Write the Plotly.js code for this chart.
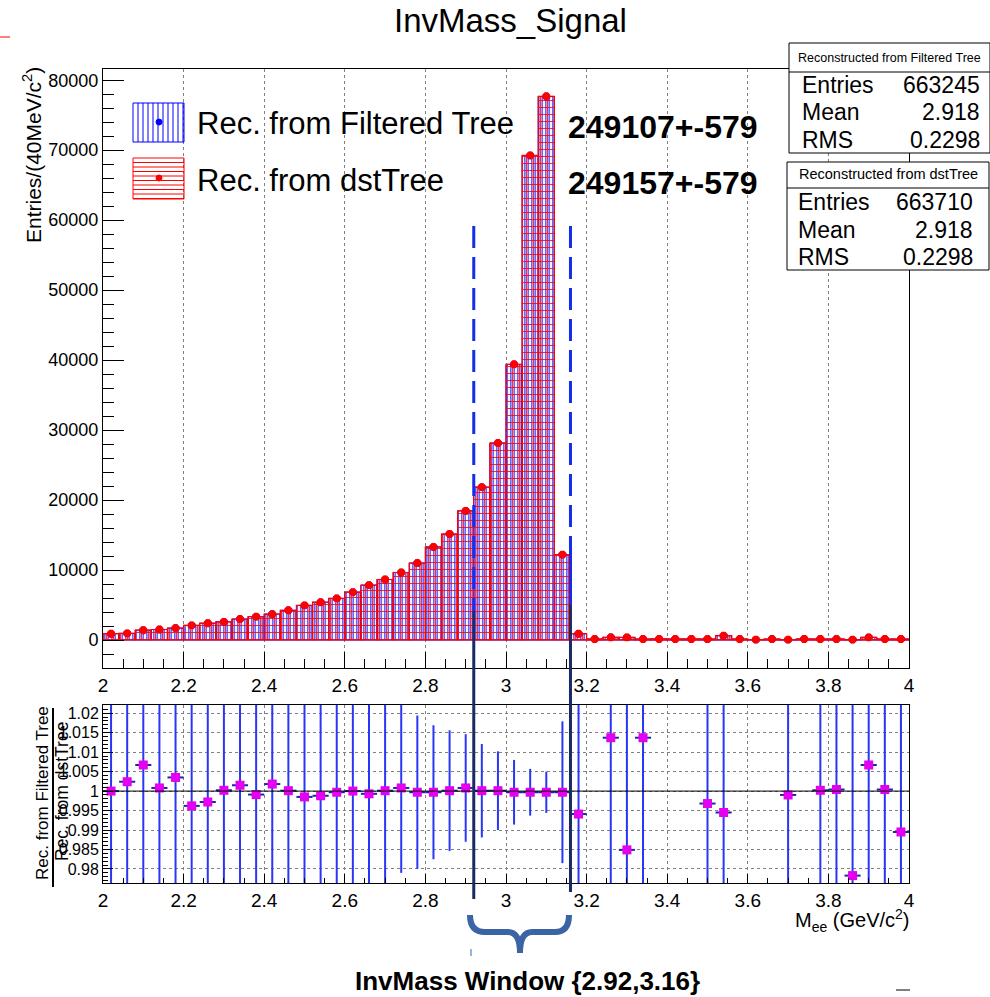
<!DOCTYPE html>
<html>
<head>
<meta charset="utf-8">
<script src="https://cdn.plot.ly/plotly-3.0.1.min.js"></script>
<style>body{margin:0;background:#fff}#chart{width:990px;height:997px}</style>
</head>
<body>
<div id="chart"></div>
<script>
// ---- data ----
const binCenters = [2.02,2.06,2.10,2.14,2.18,2.22,2.26,2.30,2.34,2.38,
                    2.42,2.46,2.50,2.54,2.58,2.62,2.66,2.70,2.74,2.78,
                    2.82,2.86,2.90,2.94,2.98,3.02,3.06,3.10,3.14,3.18,
                    3.22,3.26,3.30,3.34,3.38,3.42,3.46,3.50,3.54,3.58,
                    3.62,3.66,3.70,3.74,3.78,3.82,3.86,3.90,3.94,3.98];
const dstCounts = [900,950,1400,1500,1700,2100,2400,2600,3000,3350,
                   3700,4250,4950,5400,5950,6850,7850,8650,9650,11000,
                   13300,15150,18450,21850,28150,39400,69250,77700,12200,900,
                   140,380,380,140,150,140,150,140,620,140,
                   50,140,50,150,140,140,50,380,140,140];
const filteredCounts = [900,952,1409,1501,1706,2092,2393,2600,3004,3347,
                        3707,4250,4943,5393,5948,6850,7844,8651,9658,10997,
                        13296,15152,18465,21852,28153,39388,69229,77677,12196,895,
                        150,385,374,142,155,145,148,140,617,138,
                        55,138,50,152,140,140,49,383,140,139];
const ratioVals = [1.0000,1.0024,1.0067,1.0008,1.0035,0.9962,0.9972,1.0002,1.0015,0.9991,
                   1.0018,1.0001,0.9985,0.9988,0.9997,1.0000,0.9993,1.0001,1.0008,0.9997,
                   0.9997,1.0001,1.0008,1.0001,1.0001,0.9997,0.9997,0.9997,0.9997,0.9941,
                   null,1.0137,0.9849,1.0137,null,null,null,0.9968,0.9945,null,
                   null,null,0.9990,null,1.0002,1.0004,0.9783,1.0067,1.0004,0.9895];
const ratioErr = [0.070,0.065,0.055,0.052,0.050,0.045,0.042,0.040,0.038,0.036,
                  0.034,0.032,0.030,0.029,0.028,0.027,0.026,0.025,0.0218,0.0197,
                  0.0172,0.0155,0.0138,0.0120,0.0101,0.0083,0.0060,0.0053,0.0182,0.060,
                  0.10,0.09,0.09,0.10,0.10,0.10,0.10,0.10,0.07,0.10,
                  0.10,0.10,0.10,0.10,0.10,0.10,0.10,0.09,0.10,0.10];
const windowEdges = [2.92, 3.16];
const legendLabels = ["Rec. from Filtered Tree", "Rec. from dstTree"];
const yieldTexts = ["249107+-579", "249157+-579"];
const statsFiltered = {title:"Reconstructed from Filtered Tree", entries:"663245", mean:"2.918", rms:"0.2298"};
const statsDst = {title:"Reconstructed from dstTree", entries:"663710", mean:"2.918", rms:"0.2298"};

// ---- geometry helpers (pixel -> paper) ----
const L = 103, R = 909, T = 69, B = 883;
const PX = p => (p - L) / (R - L);
const PY = p => (B - p) / (B - T);
const dataToPx = x => L + (x - 2) / 2 * (R - L);

const FONT = 'Liberation Sans, Arial, Helvetica, sans-serif';
const BLUE = 'rgb(0,0,255)';
const RED = 'rgb(255,0,0)';

const traces = [
  {type:'bar', x:binCenters, y:filteredCounts, width:0.04, xaxis:'x', yaxis:'y',
   marker:{color:'rgba(0,0,0,0)', line:{color:BLUE, width:1},
           pattern:{shape:'|', fgcolor:BLUE, bgcolor:'rgba(0,0,0,0)', size:3.5, solidity:0.3}},
   hoverinfo:'skip'},
  {type:'bar', x:binCenters, y:dstCounts, width:0.04, xaxis:'x', yaxis:'y',
   marker:{color:'rgba(0,0,0,0)', line:{color:RED, width:1.2},
           pattern:{shape:'+', fgcolor:RED, bgcolor:'rgba(0,0,0,0)', size:7, solidity:0.22}},
   hoverinfo:'skip'},
  {type:'scatter', mode:'markers', x:binCenters, y:filteredCounts, xaxis:'x', yaxis:'y',
   marker:{symbol:'octagon', size:8, color:BLUE}, cliponaxis:true},
  {type:'scatter', mode:'markers', x:binCenters, y:dstCounts, xaxis:'x', yaxis:'y',
   marker:{symbol:'octagon', size:8.5, color:RED}, cliponaxis:true},
  {type:'scatter', mode:'markers', x:binCenters, y:ratioVals, xaxis:'x2', yaxis:'y2',
   marker:{symbol:'square', size:9, color:'rgb(230,0,240)'},
   error_y:{type:'data', array:ratioErr, visible:true, color:'rgb(40,55,245)', thickness:2, width:0},
   error_x:{type:'constant', value:0.02, visible:true, color:'rgb(25,40,170)', thickness:2, width:0},
   cliponaxis:true}
];

const shapes = [];
const annotations = [];
function line(x0,y0,x1,y1,color,width,dash){
  shapes.push({type:'line', xref:'paper', yref:'paper', x0:PX(x0), y0:PY(y0), x1:PX(x1), y1:PY(y1),
               line:{color:color, width:width, dash:dash||'solid'}, layer:'above'});
}
function rect(x0,y0,x1,y1,color,width,fill){
  shapes.push({type:'rect', xref:'paper', yref:'paper', x0:PX(x0), y0:PY(y0), x1:PX(x1), y1:PY(y1),
               line:{color:color, width:width}, fillcolor:fill||'rgba(0,0,0,0)', layer:'above'});
}
function text(t,x,y,opts){
  annotations.push(Object.assign({text:t, xref:'paper', yref:'paper', x:PX(x), y:PY(y),
    showarrow:false, xanchor:'center', yanchor:'middle',
    font:{family:FONT, size:18, color:'#000'}}, opts||{}));
}

// ratio reference line at 1
shapes.push({type:'line', xref:'x2', yref:'y2', x0:2, x1:4, y0:1, y1:1, line:{color:'#000', width:1}, layer:'above'});

// window lines
const xw0 = dataToPx(windowEdges[0]), xw1 = dataToPx(windowEdges[1]);
const DASHBLUE = 'rgb(20,45,235)', NAVY = 'rgb(28,42,100)';
line(xw0, 226, xw0, 611, DASHBLUE, 3, '22px,9px');
line(xw1, 226, xw1, 548, DASHBLUE, 3, '22px,9px');
line(xw1, 548, xw1, 605, DASHBLUE, 3);
line(xw0, 611, xw0, 899, NAVY, 3);
line(xw1, 605, xw1, 892, NAVY, 3);

// stats boxes
function statsBox(s, x0, y0, x1, y1, ysep, rows, titleSize, xl, xr, ytitle){
  rect(x0, y0, x1, y1, '#000', 1, '#fff');
  line(x0, ysep, x1, ysep, '#000', 1);
  text(s.title, (x0+x1)/2, ytitle, {font:{family:FONT, size:titleSize, color:'#000'}});
  const labs = ['Entries','Mean','RMS'], vals = [s.entries, s.mean, s.rms];
  for (let i=0;i<3;i++){
    text(labs[i], xl, rows[i], {xanchor:'left', font:{family:FONT, size:23, color:'#000'}});
    text(vals[i], xr, rows[i], {xanchor:'right', font:{family:FONT, size:23, color:'#000'}});
  }
}
statsBox(statsFiltered, 789, 43, 990, 153, 72, [85,112,140], 12.5, 800, 982, 58);
statsBox(statsDst, 787, 162, 989, 270, 188, [202,230,257], 14.5, 796, 975, 174);

// legend (hatched boxes)
rect(133, 103, 184, 142, BLUE, 1);
for (let x=138; x<184; x+=5) line(x, 103, x, 142, BLUE, 1);
rect(133, 158, 184, 199, RED, 1);
for (let y=162.5; y<199; y+=4.5) line(133, y, 184, y, RED, 1);
shapes.push({type:'circle', xref:'paper', yref:'paper', x0:PX(156), x1:PX(162), y0:PY(119), y1:PY(125), fillcolor:BLUE, line:{color:BLUE,width:1}, layer:'above'});
shapes.push({type:'circle', xref:'paper', yref:'paper', x0:PX(156), x1:PX(162), y0:PY(175), y1:PY(181), fillcolor:RED, line:{color:RED,width:1}, layer:'above'});
text(legendLabels[0], 195, 124, {xanchor:'left', font:{family:FONT, size:31, color:'#000'}});
text(legendLabels[1], 195, 180, {xanchor:'left', font:{family:FONT, size:31, color:'#000'}});
text('<b>'+yieldTexts[0]+'</b>', 566, 127, {xanchor:'left', font:{family:FONT, size:32, color:'#000'}});
text('<b>'+yieldTexts[1]+'</b>', 566, 183, {xanchor:'left', font:{family:FONT, size:32, color:'#000'}});

// title
text('InvMass_Signal', 510, 20, {font:{family:FONT, size:33, color:'#000'}});

// axis titles
text('Entries/(40MeV/c<sup>2</sup>)', 32, 65, {textangle:-90, yanchor:'top', font:{family:FONT, size:21, color:'#000'}});
text('M<sub>ee</sub> (GeV/c<sup>2</sup>)', 912, 920, {xanchor:'right', font:{family:FONT, size:20, color:'#000'}});
text('Rec. from Filtered Tree', 42, 793, {textangle:-90, font:{family:FONT, size:17, color:'#000'}});
text('Rec. from dstTree', 62, 792, {textangle:-90, font:{family:FONT, size:17.5, color:'#000'}});
line(53, 708, 53, 887, '#000', 2);

// bracket + window label
const bp = (x,y) => PX(x).toFixed(5)+','+PY(y).toFixed(5);
shapes.push({type:'path', xref:'paper', yref:'paper', layer:'above',
  path:'M '+bp(470,915)+' Q '+bp(470,932)+' '+bp(485,932)+' L '+bp(508,932)+
       ' Q '+bp(520,932)+' '+bp(520,953)+' Q '+bp(520,932)+' '+bp(532,932)+
       ' L '+bp(555,932)+' Q '+bp(569,932)+' '+bp(569,915),
  line:{color:'rgb(58,100,164)', width:6}});
line(471, 949, 471, 956, 'rgb(150,180,220)', 2);
text('<b>InvMass Window {2.92,3.16}</b>', 527, 981, {font:{family:FONT, size:26, color:'#000'}});

// stray marks
line(0, 37, 10, 37, RED, 1);
line(896, 990, 910, 990, '#000', 1);

const axisCommon = {showline:true, linecolor:'#000', linewidth:1, mirror:true, zeroline:false,
                    tickcolor:'#000', tickwidth:1, ticks:'inside'};
const layout = {
  width:990, height:997,
  margin:{l:L, r:990-R, t:T, b:997-B, pad:0},
  paper_bgcolor:'#fff', plot_bgcolor:'#fff',
  showlegend:false, barmode:'overlay', bargap:0,
  font:{family:FONT, color:'#000'},
  xaxis:Object.assign({}, axisCommon, {domain:[0,1], anchor:'y', range:[2,4], tick0:2, dtick:0.2, ticklen:16,
    showgrid:true, gridcolor:'#808080', griddash:'dot', gridwidth:1, tickfont:{size:19},
    minor:{ticks:'inside', dtick:0.05, ticklen:9, tickcolor:'#000', showgrid:false}}),
  yaxis:Object.assign({}, axisCommon, {domain:[PY(668),1], anchor:'x', range:[-4000,81600], tick0:0, dtick:10000,
    ticklen:21, showgrid:false, tickformat:'d', tickfont:{size:18},
    minor:{ticks:'inside', dtick:2000, ticklen:11, tickcolor:'#000', showgrid:false}}),
  xaxis2:Object.assign({}, axisCommon, {domain:[0,1], anchor:'y2', range:[2,4], tick0:2, dtick:0.2, ticklen:9,
    showgrid:true, gridcolor:'#808080', griddash:'dot', gridwidth:1, tickfont:{size:19},
    minor:{ticks:'inside', dtick:0.05, ticklen:5, tickcolor:'#000', showgrid:false}}),
  yaxis2:Object.assign({}, axisCommon, {domain:[0,PY(705)], anchor:'x2', range:[0.9764,1.0221], tick0:1, dtick:0.005,
    ticklen:10, showgrid:true, gridcolor:'#808080', griddash:'dot', gridwidth:1, tickfont:{size:16},
    minor:{ticks:'inside', dtick:0.001, ticklen:5, tickcolor:'#000', showgrid:false}}),
  shapes:shapes,
  annotations:annotations
};
Plotly.newPlot('chart', traces, layout, {staticPlot:true, displayModeBar:false});
</script>
</body>
</html>
